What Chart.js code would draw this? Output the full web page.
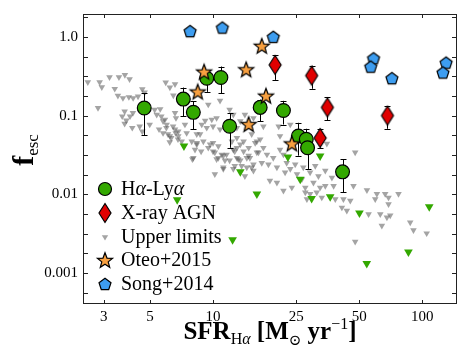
<!DOCTYPE html>
<html>
<head>
<meta charset="utf-8">
<script src="https://cdn.jsdelivr.net/npm/chart.js@4.4.0/dist/chart.umd.min.js"></script>
<style>
  html, body { margin: 0; padding: 0; background: #fff; }
  #wrap { width: 469px; height: 361px; }
</style>
</head>
<body>
<div id="wrap"><canvas id="fescChart" width="469" height="361"></canvas></div>
<script>
// Axis ticks
const xTicks = [3, 5, 10, 25, 50, 100];
const yTicks = [0.001, 0.01, 0.1, 1.0];
const yTickLabels = ['0.001', '0.01', '0.1', '1.0'];

// H-alpha / Ly-alpha detections (with error bars)
const haLyaSfr  = [4.69, 7.21, 8.05, 9.33, 10.9, 12.0, 16.8, 21.7, 25.6, 27.9, 28.3, 41.6];
const haLyaFesc = [0.125, 0.162, 0.110, 0.298, 0.304, 0.0733, 0.127, 0.116, 0.055, 0.050, 0.039, 0.0193];
const haLyaLo   = [0.056, 0.098, 0.067, 0.200, 0.193, 0.039, 0.085, 0.077, 0.031, 0.036, 0.021, 0.0106];
const haLyaHi   = [0.193, 0.227, 0.151, 0.360, 0.420, 0.108, 0.160, 0.154, 0.081, 0.068, 0.052, 0.0278];

// X-ray AGN
const agnSfr  = [19.8, 29.6, 35.2, 32.5, 68.2];
const agnFesc = [0.44, 0.322, 0.127, 0.052, 0.100];
const agnLo   = [0.284, 0.219, 0.087, 0.039, 0.068];
const agnHi   = [0.588, 0.430, 0.170, 0.068, 0.131];

// Oteo+2015
const oteoSfr  = [17.1, 9.06, 14.4, 8.45, 14.8, 17.9, 23.8];
const oteoFesc = [0.77, 0.362, 0.387, 0.202, 0.078, 0.179, 0.0443];

// Song+2014
const songSfr  = [7.77, 11.08, 19.4, 58.5, 56.7, 71.6, 130, 125.6];
const songFesc = [1.18, 1.31, 1.00, 0.533, 0.418, 0.298, 0.47, 0.352];

// Green upper limits (H-alpha sample, no Ly-alpha)
const haLimitSfr  = [7.26, 13.5, 6.74, 16.2, 12.4, 22.8, 32.5, 26.1, 29.6, 36.3, 50.1, 108, 85.9, 54.3];
const haLimitFesc = [0.041, 0.0194, 0.00855, 0.0101, 0.00265, 0.0298, 0.0307, 0.0156, 0.00888, 0.0093, 0.0058, 0.00698, 0.00185, 0.00132];

// Grey upper limits [SFR, fesc]
const upperLimits = [
  [2.52,0.265],[2.87,0.265],[2.94,0.230],[3.20,0.307],[3.55,0.307],[3.79,0.329],[3.99,0.290],
  [3.39,0.219],[3.51,0.179],[3.71,0.167],[3.96,0.172],[4.38,0.175],[4.59,0.216],[4.71,0.197],
  [2.82,0.125],[3.78,0.113],[3.68,0.098],[3.85,0.087],[4.14,0.108],[3.78,0.079],[4.11,0.070],
  [4.46,0.073],[4.59,0.063],[4.98,0.077],[5.26,0.119],[5.59,0.121],[5.66,0.098],[5.77,0.085],
  [5.52,0.067],[5.77,0.060],[5.98,0.070],[6.09,0.058],[6.31,0.052],[6.63,0.060],[6.44,0.073],
  [6.80,0.050],[6.21,0.046],[5.94,0.263],[6.22,0.228],[6.58,0.250],
  [4.15,0.167],[4.01,0.098],[5.38,0.103],[6.22,0.055],[6.58,0.067],[6.82,0.055],[7.08,0.047],
  [7.48,0.060],[7.91,0.047],[8.36,0.058],[8.99,0.047],[9.49,0.039],[10.0,0.045],[10.4,0.093],
  [9.86,0.089],[10.8,0.155],[12.0,0.119],[12.5,0.103],[13.5,0.085],[14.2,0.103],[15.6,0.093],
  [13.0,0.070],[14.0,0.047],[15.3,0.058],[16.2,0.047],[13.0,0.039],[11.2,0.031],[12.0,0.027],
  [14.5,0.029],[15.6,0.024],[11.2,0.022],
  [6.46,0.180],[5.89,0.089],[6.00,0.077],[6.58,0.108],[6.65,0.093],[6.82,0.063],[7.34,0.077],
  [8.36,0.045],[8.20,0.037],[8.05,0.029],[8.83,0.077],[9.17,0.086],[9.33,0.070],[8.67,0.058],
  [9.68,0.043],[10.0,0.035],[10.6,0.041],[11.0,0.032],[10.4,0.028],[11.4,0.027],[13.0,0.052],
  [13.5,0.043],[14.0,0.035],[14.8,0.031],[13.5,0.027],[12.7,0.023],[14.5,0.022],[16.2,0.034],
  [9.49,0.138],[10.0,0.073],[10.8,0.067],
  [14.8,0.039],[15.0,0.029],[15.9,0.045],[16.8,0.050],[16.5,0.034],[17.4,0.039],[18.1,0.032],
  [17.1,0.025],[18.4,0.024],[19.4,0.029],[20.2,0.022],[20.9,0.037],[21.7,0.032],[22.5,0.025],
  [22.1,0.019],[23.4,0.021],[24.7,0.024],[25.2,0.018],[26.6,0.0156],[27.0,0.022],[29.1,0.019],
  [30.2,0.0141],[31.9,0.017],[32.5,0.0122],[18.7,0.0149],[20.2,0.0141],[23.8,0.0122],
  [21.7,0.0111],[27.6,0.0106],[12.5,0.021],[13.0,0.029],[15.6,0.020],[14.2,0.017],[20.9,0.055],
  [23.4,0.077],[20.6,0.073],[17.4,0.073],[12.3,0.047],[12.5,0.037],
  [27.6,0.0122],[29.1,0.0101],[31.3,0.0106],[33.1,0.0091],[28.1,0.0087],[34.4,0.0128],
  [37.0,0.0163],[37.7,0.0128],[38.4,0.0087],[42.0,0.0087],[45.3,0.0083],[41.3,0.0068],
  [43.6,0.0062],[46.9,0.0128],[54.4,0.0113],[60.7,0.0101],[66.5,0.0101],[69.0,0.0091],
  [59.6,0.0087],[69.0,0.0075],[77.0,0.0101],[55.4,0.0056],[63.0,0.0056],[67.8,0.0051],
  [70.3,0.0054],[64.1,0.0040],[87.6,0.0044],[90.8,0.0035],[105,0.0032],[47.8,0.0025],
  [34.4,0.020],[30.8,0.023],
  [7.97,0.028],[8.77,0.035],[10.2,0.018],[11.2,0.021],[13.7,0.023],[15.3,0.022],[8.36,0.043],
  [10.2,0.034],[10.6,0.029],[11.6,0.032],[12.7,0.035],[13.2,0.028],
  [47.8,0.034],[35.0,0.044]
];

const serif = "'Liberation Serif', 'DejaVu Serif', serif";
const GREEN = '#33a800';
const RED = '#e00000';
const ORANGE = '#f8a040';
const BLUE = '#3d9df0';
const GREY = 'rgba(90,90,90,0.55)';

// Marker shapes
function pathDiamond(g, cx, cy, w, h) {
    g.beginPath();
    g.moveTo(cx, cy - h / 2);
    g.lineTo(cx + w / 2, cy);
    g.lineTo(cx, cy + h / 2);
    g.lineTo(cx - w / 2, cy);
    g.closePath();
}

function pathStar(g, cx, cy, R, r) {
    g.beginPath();
    for (let i = 0; i < 10; i++) {
        const rad = (i % 2 === 0) ? R : r;
        const a = -Math.PI / 2 + i * Math.PI / 5;
        const px = cx + rad * Math.cos(a), py = cy + rad * Math.sin(a);
        if (i === 0) g.moveTo(px, py); else g.lineTo(px, py);
    }
    g.closePath();
}

function pathPentagon(g, cx, cy, R) {
    g.beginPath();
    for (let i = 0; i < 5; i++) {
        const a = -Math.PI / 2 + i * 2 * Math.PI / 5;
        const px = cx + R * Math.cos(a), py = cy + R * Math.sin(a);
        if (i === 0) g.moveTo(px, py); else g.lineTo(px, py);
    }
    g.closePath();
}

function makeMarker(w, h, draw) {
    const c = document.createElement('canvas');
    c.width = w; c.height = h;
    const g = c.getContext('2d');
    draw(g, w / 2, h / 2);
    return c;
}

function fillStroke(g, fill) {
    g.fillStyle = fill; g.fill();
    g.lineWidth = 1.2; g.strokeStyle = '#000'; g.stroke();
}

const diamondImg = makeMarker(16, 24, (g, cx, cy) => { pathDiamond(g, cx, cy, 12, 19); fillStroke(g, RED); });
const starImg = makeMarker(20, 20, (g, cx, cy) => { pathStar(g, cx, cy + 0.8, 8, 3.4); fillStroke(g, ORANGE); });
const pentImg = makeMarker(16, 16, (g, cx, cy) => { pathPentagon(g, cx, cy + 0.6, 6.3); fillStroke(g, BLUE); });

function toPoints(xs, ys) {
    return xs.map((v, i) => ({ x: v, y: ys[i] }));
}

// Error bars, drawn just before their dataset
const errorBars = {
    id: 'errorBars',
    beforeDatasetDraw(chart, args) {
        const ds = chart.data.datasets[args.index];
        if (!ds.errLo) return;
        const { ctx, chartArea: a, scales: { x, y } } = chart;
        ctx.save();
        ctx.beginPath();
        ctx.rect(a.left, a.top, a.right - a.left, a.bottom - a.top);
        ctx.clip();
        ctx.strokeStyle = '#000';
        ctx.lineWidth = 1;
        ds.data.forEach((p, i) => {
            const px = Math.round(x.getPixelForValue(p.x)) + 0.5;
            const lo = y.getPixelForValue(ds.errLo[i]);
            const hi = y.getPixelForValue(ds.errHi[i]);
            ctx.beginPath();
            ctx.moveTo(px, lo); ctx.lineTo(px, hi);
            ctx.moveTo(px - 3, Math.round(lo) + 0.5); ctx.lineTo(px + 3, Math.round(lo) + 0.5);
            ctx.moveTo(px - 3, Math.round(hi) + 0.5); ctx.lineTo(px + 3, Math.round(hi) + 0.5);
            ctx.stroke();
        });
        ctx.restore();
    }
};

// Frame, inward ticks, axis titles and legend
const decorations = {
    id: 'decorations',
    afterDraw(chart) {
        const { ctx, chartArea: a, scales: { x, y } } = chart;
        ctx.save();
        ctx.strokeStyle = '#222';
        ctx.lineWidth = 1;
        ctx.strokeRect(a.left + 0.5, a.top + 0.5, a.right - a.left - 1, a.bottom - a.top - 1);
        ctx.beginPath();
        xTicks.forEach(v => {
            const px = Math.round(x.getPixelForValue(v)) + 0.5;
            ctx.moveTo(px, a.bottom); ctx.lineTo(px, a.bottom - 4);
            ctx.moveTo(px, a.top); ctx.lineTo(px, a.top + 4);
        });
        for (let k = -13; k <= 1; k++) {
            const py = Math.round(y.getPixelForValue(Math.pow(10, k / 4))) + 0.5;
            if (py < a.top || py > a.bottom) continue;
            ctx.moveTo(a.left, py); ctx.lineTo(a.left + 5, py);
            ctx.moveTo(a.right, py); ctx.lineTo(a.right - 5, py);
        }
        ctx.stroke();

        // x title: SFR_Ha [M_sun yr^-1]
        ctx.fillStyle = '#000';
        ctx.textBaseline = 'alphabetic';
        const segs = [
            { t: 'SFR', f: 'bold 25px ' + serif, dy: 0 },
            { t: 'H', f: '16px ' + serif, dy: 5 },
            { t: 'α', f: 'italic 16px ' + serif, dy: 5 },
            { t: ' [M', f: 'bold 25px ' + serif, dy: 0 },
            { t: '⊙', f: '15px ' + serif, dy: 6 },
            { t: ' yr', f: 'bold 25px ' + serif, dy: 0 },
            { t: '−1', f: '16px ' + serif, dy: -10 },
            { t: ']', f: 'bold 25px ' + serif, dy: 0 }
        ];
        let total = 0;
        segs.forEach(s => { ctx.font = s.f; s.w = ctx.measureText(s.t).width; total += s.w; });
        let cx = (a.left + a.right) / 2 - total / 2;
        segs.forEach(s => { ctx.font = s.f; ctx.fillText(s.t, cx, 339 + s.dy); cx += s.w; });

        // y title: f_esc
        ctx.save();
        ctx.translate(33, 150);
        ctx.rotate(-Math.PI / 2);
        ctx.font = 'bold 30px ' + serif;
        const fw = ctx.measureText('f').width;
        ctx.font = '17px ' + serif;
        const ew = ctx.measureText('esc').width;
        ctx.font = 'bold 30px ' + serif;
        ctx.fillText('f', -(fw + ew) / 2, 0);
        ctx.font = '17px ' + serif;
        ctx.fillText('esc', -(fw + ew) / 2 + fw, 5);
        ctx.restore();

        // legend
        const mx = 105, tx = 121;
        const rows = [189, 213, 237, 260, 284];
        ctx.beginPath(); ctx.arc(mx, rows[0], 6.5, 0, Math.PI * 2); fillStroke(ctx, GREEN);
        ctx.drawImage(diamondImg, mx - diamondImg.width / 2, rows[1] - diamondImg.height / 2);
        ctx.beginPath();
        ctx.moveTo(mx - 3.2, rows[2] - 1.8); ctx.lineTo(mx + 3.2, rows[2] - 1.8); ctx.lineTo(mx, rows[2] + 3.6);
        ctx.closePath(); ctx.fillStyle = GREY; ctx.fill();
        ctx.drawImage(starImg, mx - starImg.width / 2, rows[3] - starImg.height / 2);
        ctx.drawImage(pentImg, mx - pentImg.width / 2, rows[4] - pentImg.height / 2);

        ctx.fillStyle = '#000';
        ctx.textBaseline = 'middle';
        const lf = '20px ' + serif, lfi = 'italic 20px ' + serif;
        const first = [['H', lf], ['α', lfi], ['-Ly', lf], ['α', lfi]];
        let lx = tx;
        first.forEach(([t, f]) => { ctx.font = f; ctx.fillText(t, lx, rows[0] + 1); lx += ctx.measureText(t).width; });
        ctx.font = lf;
        ctx.fillText('X-ray AGN', tx, rows[1] + 1);
        ctx.fillText('Upper limits', tx, rows[2] + 1);
        ctx.fillText('Oteo+2015', tx, rows[3] + 1);
        ctx.fillText('Song+2014', tx, rows[4] + 1);
        ctx.restore();
    }
};

const fescChart = new Chart(document.getElementById('fescChart'), {
    type: 'scatter',
    data: {
        datasets: [
            {
                label: 'Song+2014',
                data: toPoints(songSfr, songFesc),
                pointStyle: pentImg,
                pointRadius: 6,
                order: 1
            },
            {
                label: 'Oteo+2015',
                data: toPoints(oteoSfr, oteoFesc),
                pointStyle: starImg,
                pointRadius: 7,
                order: 2
            },
            {
                label: 'X-ray AGN',
                data: toPoints(agnSfr, agnFesc),
                errLo: agnLo,
                errHi: agnHi,
                pointStyle: diamondImg,
                pointRadius: 8,
                order: 3
            },
            {
                label: 'Hα-Lyα',
                data: toPoints(haLyaSfr, haLyaFesc),
                errLo: haLyaLo,
                errHi: haLyaHi,
                pointStyle: 'circle',
                pointRadius: 6.9,
                backgroundColor: GREEN,
                borderColor: '#000',
                borderWidth: 1.2,
                order: 4
            },
            {
                label: 'Hα limits',
                data: toPoints(haLimitSfr, haLimitFesc),
                pointStyle: 'triangle',
                rotation: 180,
                pointRadius: 5,
                backgroundColor: GREEN,
                borderWidth: 0,
                order: 5
            },
            {
                label: 'Upper limits',
                data: upperLimits.map(p => ({ x: p[0], y: p[1] })),
                pointStyle: 'triangle',
                rotation: 180,
                pointRadius: 3.8,
                backgroundColor: GREY,
                borderWidth: 0,
                order: 6
            }
        ]
    },
    options: {
        responsive: false,
        animation: false,
        events: [],
        layout: { padding: { top: 12, right: 12, left: 0, bottom: 0 } },
        plugins: {
            legend: { display: false },
            tooltip: { enabled: false }
        },
        scales: {
            x: {
                type: 'logarithmic',
                min: 2.39,
                max: 146.6,
                afterBuildTicks: scale => { scale.ticks = xTicks.map(v => ({ value: v })); },
                afterFit: scale => { scale.height = 57; },
                grid: { display: false, drawTicks: false },
                border: { display: false },
                ticks: {
                    autoSkip: false,
                    maxRotation: 0,
                    padding: 4,
                    color: '#000',
                    font: { family: serif, size: 15 },
                    callback: v => String(v)
                }
            },
            y: {
                type: 'logarithmic',
                min: 0.000405,
                max: 1.95,
                afterBuildTicks: scale => { scale.ticks = yTicks.map(v => ({ value: v })); },
                afterFit: scale => { scale.width = 83; },
                grid: { display: false, drawTicks: false },
                border: { display: false },
                ticks: {
                    autoSkip: false,
                    padding: 5,
                    color: '#000',
                    font: { family: serif, size: 15 },
                    callback: v => yTickLabels[yTicks.indexOf(v)]
                }
            }
        }
    },
    plugins: [errorBars, decorations]
});
</script>
</body>
</html>
